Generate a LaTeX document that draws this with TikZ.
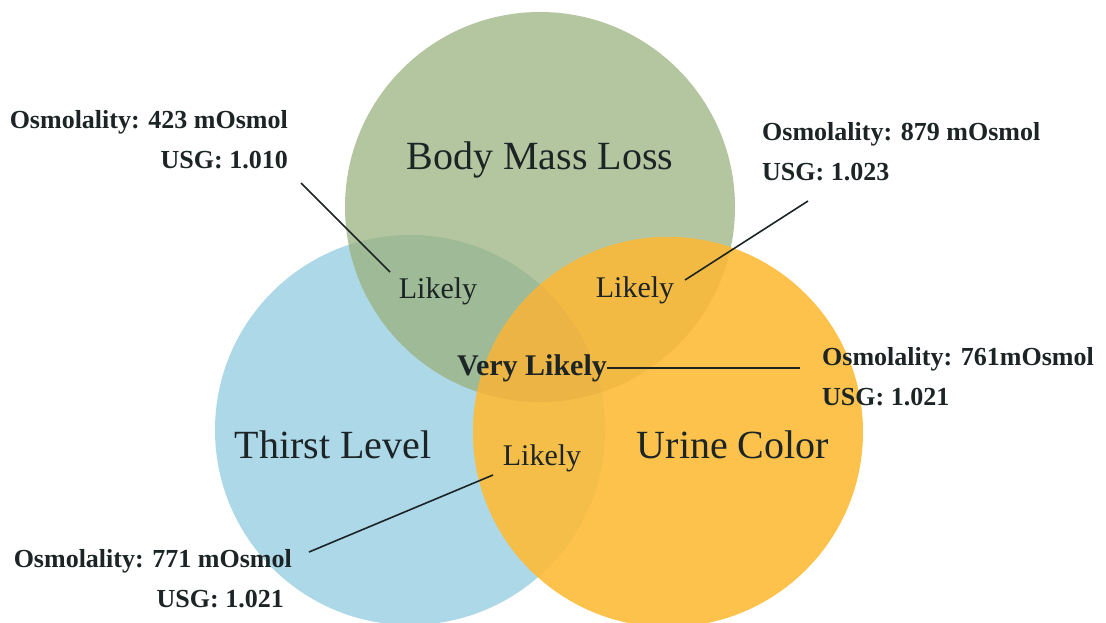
\documentclass[tikz,border=0pt]{standalone}
\usepackage{fontspec}
\setmainfont{Liberation Serif}
\definecolor{cgreen}{HTML}{B4C6A0}
\definecolor{cblue}{HTML}{ACD8E8}
\definecolor{corange}{HTML}{FCC24B}
\definecolor{cgb}{HTML}{9EBA96}
\definecolor{cgo}{HTML}{F2BA42}
\definecolor{cbo}{HTML}{F4BE48}
\definecolor{call}{HTML}{ECB444}
\definecolor{ctext}{HTML}{1C2426}
\begin{document}
\begin{tikzpicture}[x=1pt,y=-1pt,
  bigtext/.style={font=\fontsize{40}{48}\selectfont, text=ctext, inner sep=0pt},
  liktext/.style={font=\fontsize{30}{36}\selectfont, text=ctext, inner sep=0pt},
  infotext/.style={font=\fontsize{26}{40}\selectfont\bfseries, text=ctext, inner sep=0pt},
  conn/.style={draw=ctext, line width=1.6pt}]
\useasboundingbox (0,0) rectangle (1106,622);
\clip (0,0) rectangle (1106,622);
\fill[white] (0,0) rectangle (1106,622);
% circles
\fill[cblue] (410,430) circle[radius=195pt];
\fill[cgreen] (540,207) circle[radius=195pt];
\fill[corange] (668,432) circle[radius=195pt];
\begin{scope}
  \clip (540,207) circle[radius=195pt];
  \fill[cgb] (410,430) circle[radius=195pt];
  \fill[cgo] (668,432) circle[radius=195pt];
\end{scope}
\begin{scope}
  \clip (410,430) circle[radius=195pt];
  \fill[cbo] (668,432) circle[radius=195pt];
\end{scope}
\begin{scope}
  \clip (540,207) circle[radius=195pt];
  \clip (410,430) circle[radius=195pt];
  \fill[call] (668,432) circle[radius=195pt];
\end{scope}
% titles
\node[bigtext] (bml) at (540,160) {Body Mass Loss};
\node[bigtext] (thirst) at (333,445) {Thirst Level};
\node[bigtext] (urine) at (733,445) {Urine Color};
% likelihood labels
\node[liktext] (lgb) at (438,291) {Likely};
\node[liktext] (lgo) at (635,290) {Likely};
\node[liktext] (lbo) at (542,458) {Likely};
\node[liktext,font=\fontsize{30}{36}\selectfont\bfseries] (vl) at (532,368) {Very Likely};
% info labels
\node[infotext, align=right, anchor=east] (i423) at (288,140) {Osmolality: 423 mOsmol\\USG: 1.010};
\node[infotext, align=left, anchor=west] (i879) at (762,152) {Osmolality: 879 mOsmol\\USG: 1.023};
\node[infotext, align=left, anchor=west] (i761) at (822,377) {Osmolality: 761mOsmol\\USG: 1.021};
\node[infotext, align=right, anchor=east] (i771) at (292,579) {Osmolality: 771 mOsmol\\USG: 1.021\hspace*{8pt}};
% connector ends
\coordinate (a1) at (301,183);
\coordinate (b1) at (390,272);
\coordinate (a2) at (808,201);
\coordinate (b2) at (685,280);
\path (vl.east) ++(193pt,0pt) coordinate (a3);
\coordinate (a4) at (309,552);
\coordinate (b4) at (493,475);
\draw[conn] (a1) -- (b1);
\draw[conn] (a2) -- (b2);
\draw[conn] (vl.east) -- (a3);
\draw[conn] (a4) -- (b4);
\end{tikzpicture}
\end{document}
